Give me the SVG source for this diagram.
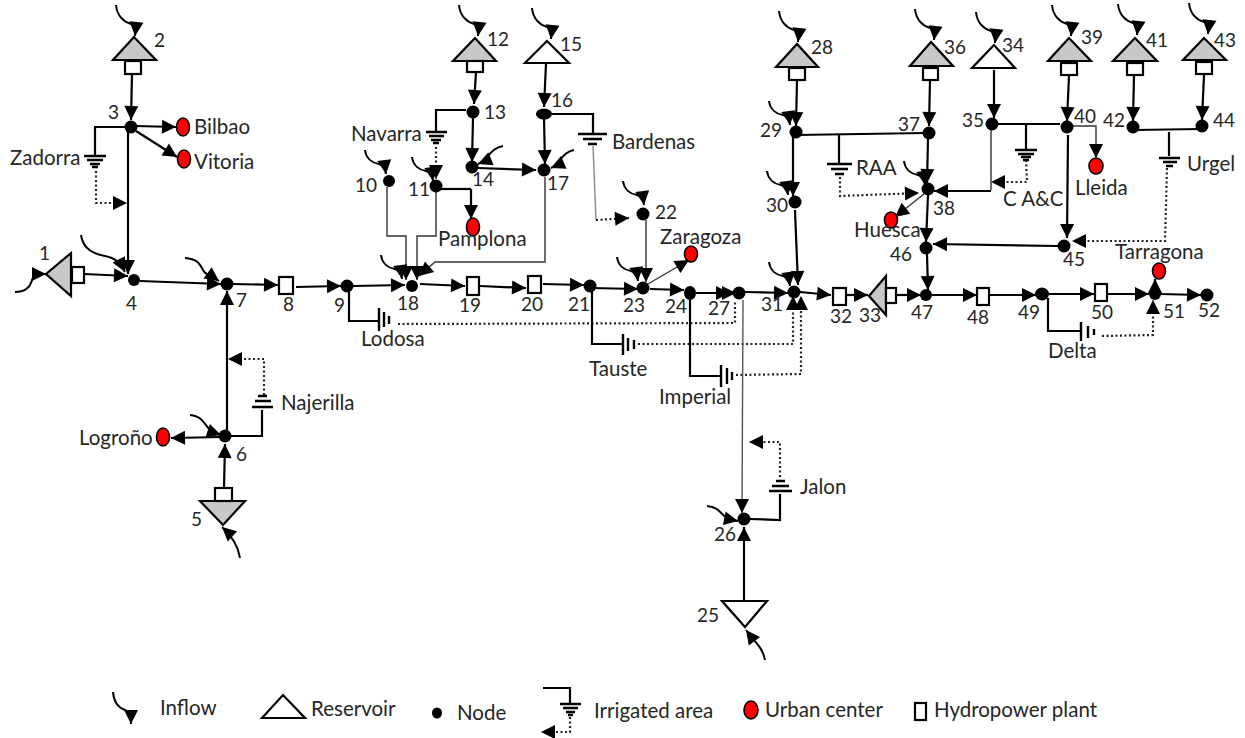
<svg xmlns="http://www.w3.org/2000/svg" width="1245" height="738" viewBox="0 0 1245 738">
<style>
text{font-family:"Lato","Open Sans","Liberation Sans",sans-serif;font-size:19px;fill:#262626}
#legend text,#Bilbao text,#Vitoria text,#Logrono text,#Pamplona text,#Zaragoza text,#Huesca text,#Lleida text,#Tarragona text,#Zadorra text,#Najerilla text,#Navarra text,#Bardenas text,#Lodosa text,#Tauste text,#Imperial text,#Jalon text,#RAA text,#CAC text,#Urgel text,#Delta text{font-size:20.5px}
.c,.t,.d,.g,.i{fill:none;stroke:#000}
.c{stroke-width:2.2}
.t{stroke-width:1.4;stroke:#333}
.d{stroke-width:2.2;stroke-dasharray:2 2.5;stroke:#222}
.g{stroke-width:2.4}
.i{stroke-width:2}
.n{fill:#000}
.r{fill:#c8c8c8;stroke:#000;stroke-width:2.2}
.w{fill:#fff;stroke:#000;stroke-width:2.2}
.u{fill:#f00;stroke:#000;stroke-width:1.6}
</style>
<defs>
<marker id="a" markerUnits="userSpaceOnUse" markerWidth="16" markerHeight="16" refX="15" refY="8" orient="auto" overflow="visible"><path d="M1 1L15 8L1 15Z" fill="#000"/></marker>
<path id="inT" class="i" marker-end="url(#a)" d="M-19 -31c1 11 8 17 15 19c3 1 5 3 4 12"/>
<path id="inS" class="i" marker-end="url(#a)" d="M-21 -24c1 9 8 13 14 14c3 1 6 2 7 10"/>
</defs>
<rect width="1245" height="738" fill="#fff"/>
<g id="connectors">
<path class="c" marker-end="url(#a)" d="M84 274L128 276"/>
<path class="c" marker-end="url(#a)" d="M132 74L131 120"/>
<path class="c" marker-end="url(#a)" d="M128 130V274"/>
<path class="c" marker-end="url(#a)" d="M135 126L176 127"/>
<path class="c" marker-end="url(#a)" d="M136 131L177 157"/>
<path class="c" d="M125 127H95V155"/>
<path class="d" marker-end="url(#a)" d="M96 171V203H127"/>
<path class="c" marker-end="url(#a)" d="M140 281L221 284"/>
<path class="c" marker-end="url(#a)" d="M233 284L278 285"/>
<path class="c" marker-end="url(#a)" d="M296 287L341 286"/>
<path class="c" marker-end="url(#a)" d="M353 286L405 285"/>
<path class="c" marker-end="url(#a)" d="M227 432V291"/>
<path class="c" marker-end="url(#a)" d="M224 488L225 444"/>
<path class="c" marker-end="url(#a)" d="M222 437L171 438"/>
<path class="c" d="M231 436H262V410"/>
<path class="d" marker-end="url(#a)" d="M264 395V359H228"/>
<path class="c" d="M349 290V321H378"/>
<path class="d" d="M398 324L735 323V300"/>
<path class="t" marker-end="url(#a)" d="M387 187V236H406V280"/>
<path class="t" marker-end="url(#a)" d="M436 192V236H417V280"/>
<path class="t" marker-end="url(#a)" d="M545 177V262H435L419 276"/>
<path class="c" d="M466 110H436V131"/>
<path class="d" marker-end="url(#a)" d="M436 147V179"/>
<path class="c" d="M440 189H471"/>
<path class="c" marker-end="url(#a)" d="M471 189V219"/>
<path class="c" marker-end="url(#a)" d="M476 72L474 104"/>
<path class="c" marker-end="url(#a)" d="M473 118L472 162"/>
<path class="c" marker-end="url(#a)" d="M478 168L536 170"/>
<path class="c" marker-end="url(#a)" d="M546 64L544 107"/>
<path class="c" marker-end="url(#a)" d="M544 118L545 164"/>
<path class="c" d="M552 114H593V133"/>
<path class="t" style="stroke:#888" d="M593 146L596 220"/>
<path class="d" marker-end="url(#a)" d="M596 220L629 218"/>
<path class="t" marker-end="url(#a)" d="M646 220V282"/>
<path class="t" marker-end="url(#a)" d="M648 284L689 260"/>
<path class="c" marker-end="url(#a)" d="M420 284L465 286"/>
<path class="c" marker-end="url(#a)" d="M480 286L526 288"/>
<path class="c" marker-end="url(#a)" d="M543 284L584 285"/>
<path class="c" marker-end="url(#a)" d="M590 288L638 289"/>
<path class="c" marker-end="url(#a)" d="M650 289L684 290"/>
<path class="c" marker-end="url(#a)" d="M696 293L730 293"/>
<path class="c" marker-end="url(#a)" d="M720 293L736 293"/>
<path class="c" marker-end="url(#a)" d="M745 292L788 293"/>
<path class="c" d="M592 290V344H622"/>
<path class="d" marker-end="url(#a)" d="M638 344H793V296"/>
<path class="c" d="M690 300V376H720"/>
<path class="d" marker-end="url(#a)" d="M736 375L801 374V296"/>
<path class="t" style="stroke:#555" marker-end="url(#a)" d="M743 300L742 513"/>
<path class="c" marker-end="url(#a)" d="M744 600V527"/>
<path class="c" d="M750 519L780 520V494"/>
<path class="d" marker-end="url(#a)" d="M780 477V442H749"/>
<path class="c" marker-end="url(#a)" d="M797 80L796 126"/>
<path class="c" d="M796 135L925 133"/>
<path class="c" d="M839 135V163"/>
<path class="d" marker-end="url(#a)" d="M840 177V196L919 193"/>
<path class="c" marker-end="url(#a)" d="M793 137V196"/>
<path class="c" marker-end="url(#a)" d="M795 210L798 285"/>
<path class="c" marker-end="url(#a)" d="M930 80L929 126"/>
<path class="c" marker-end="url(#a)" d="M928 139L927 183"/>
<path class="c" marker-end="url(#a)" d="M928 195L926 242"/>
<path class="c" marker-end="url(#a)" d="M927 254L928 290"/>
<path class="t" marker-end="url(#a)" d="M924 194L895 217"/>
<path class="t" d="M991 128V190"/>
<path class="c" marker-end="url(#a)" d="M991 191H934"/>
<path class="c" d="M1026 124V150"/>
<path class="d" marker-end="url(#a)" d="M1026 160L1027 182H991"/>
<path class="c" marker-end="url(#a)" d="M994 70V118"/>
<path class="c" d="M998 124H1060"/>
<path class="c" marker-end="url(#a)" d="M1069 75L1067 121"/>
<path class="t" marker-end="url(#a)" d="M1072 126H1096V158"/>
<path class="c" marker-end="url(#a)" d="M1068 135L1067 238"/>
<path class="c" marker-end="url(#a)" d="M1058 246L933 244"/>
<path class="d" marker-end="url(#a)" d="M1167 168L1165 241H1072"/>
<path class="c" marker-end="url(#a)" d="M1134 75L1133 121"/>
<path class="c" marker-end="url(#a)" d="M1204 75L1202 120"/>
<path class="c" d="M1135 130L1200 129"/>
<path class="c" d="M1169 132V156"/>
<path class="c" marker-end="url(#a)" d="M800 292L831 295"/>
<path class="c" marker-end="url(#a)" d="M846 295L868 295"/>
<path class="c" marker-end="url(#a)" d="M896 295L921 295"/>
<path class="c" marker-end="url(#a)" d="M932 295L977 295"/>
<path class="c" marker-end="url(#a)" d="M989 295L1036 295"/>
<path class="c" marker-end="url(#a)" d="M1048 294L1094 294"/>
<path class="c" marker-end="url(#a)" d="M1108 294L1149 294"/>
<path class="c" marker-end="url(#a)" d="M1160 294L1201 295"/>
<path class="c" marker-end="url(#a)" d="M1155 291V279"/>
<path class="d" marker-end="url(#a)" d="M1102 336L1153 335V300"/>
<path class="c" d="M1048 298V331H1080"/>
</g>
<g id="inflows">
<use href="#inT" x="135" y="36"/>
<use href="#inT" x="478" y="36"/>
<use href="#inT" x="551" y="39"/>
<use href="#inT" x="798" y="42"/>
<use href="#inT" x="934" y="40"/>
<use href="#inT" x="995" y="43"/>
<use href="#inT" x="1071" y="36"/>
<use href="#inT" x="1137" y="35"/>
<use href="#inT" x="1208" y="34"/>
<use href="#inS" x="386" y="174"/>
<use href="#inS" x="433" y="181"/>
<use href="#inS" x="644" y="205"/>
<use href="#inS" x="638" y="281"/>
<use href="#inS" x="790" y="125"/>
<use href="#inS" x="788" y="195"/>
<use href="#inS" x="790" y="286"/>
<use href="#inS" x="925" y="185"/>
<use href="#inS" x="402" y="279"/>
<path class="i" marker-end="url(#a)" d="M15 292C25 292 30 288 32 280C34 274 38 274 46 274"/>
<path class="i" marker-end="url(#a)" d="M81 235C83 250 95 254 105 256C115 258 120 262 125 272"/>
<path class="i" marker-end="url(#a)" d="M185 258C196 259 199 262 203 270C206 276 212 276 219 281"/>
<path class="i" marker-end="url(#a)" d="M190 415C204 416 206 428 212 432L221 435"/>
<path class="i" marker-end="url(#a)" d="M240 558C238 545 232 536 222 527"/>
<path class="i" marker-end="url(#a)" d="M503 146C490 148 488 160 478 164"/>
<path class="i" marker-end="url(#a)" d="M574 150C562 152 560 164 551 168"/>
<path class="i" marker-end="url(#a)" d="M707 506C720 507 722 516 728 519L738 521"/>
<path class="i" marker-end="url(#a)" d="M765 660C763 648 755 642 746 630"/>
</g>
<g id="res1"><path class="r" d="M46 274L71 253V296Z"/><rect class="w" x="72" y="267" width="12" height="16"/><text x="39" y="260">1</text></g>
<g id="res2"><path class="r" d="M134 37L113 60H156Z"/><rect class="w" x="125" y="61" width="16" height="13"/><text x="154" y="47">2</text></g>
<g id="res5"><path class="r" d="M200 501H245L223 525Z"/><rect class="w" x="215" y="488" width="17" height="13"/><text x="191" y="526">5</text></g>
<g id="res12"><path class="r" d="M475 38L453 61H496Z"/><rect class="w" x="467" y="61" width="16" height="11"/><text x="487" y="46">12</text></g>
<g id="res15"><path class="w" d="M547 41L525 63H569Z"/><text x="560" y="51">15</text></g>
<g id="res25"><path class="w" d="M722 601H767L745 627Z"/><text x="697" y="622">25</text></g>
<g id="res28"><path class="r" d="M797 44L776 67H818Z"/><rect class="w" x="789" y="68" width="16" height="12"/><text x="811" y="54">28</text></g>
<g id="res33"><path class="r" d="M869 296L886 276V315Z"/><rect class="w" x="886" y="288" width="10" height="15"/><text x="859" y="322">33</text></g>
<g id="res34"><path class="w" d="M994 45L972 68H1015Z"/><text x="1002" y="52">34</text></g>
<g id="res36"><path class="r" d="M931 42L910 66H953Z"/><rect class="w" x="923" y="68" width="15" height="12"/><text x="944" y="54">36</text></g>
<g id="res39"><path class="r" d="M1069 38L1048 61H1091Z"/><rect class="w" x="1061" y="63" width="16" height="12"/><text x="1081" y="44">39</text></g>
<g id="res41"><path class="r" d="M1135 38L1113 61H1157Z"/><rect class="w" x="1127" y="63" width="16" height="12"/><text x="1146" y="47">41</text></g>
<g id="res43"><path class="r" d="M1204 38L1183 60H1226Z"/><rect class="w" x="1196" y="62" width="16" height="12"/><text x="1214" y="47">43</text></g>
<g id="plant8"><rect class="w" x="279" y="277" width="14" height="17"/><text x="283" y="311">8</text></g>
<g id="plant19"><rect class="w" x="467" y="277" width="12" height="18"/><text x="459" y="312">19</text></g>
<g id="plant20"><rect class="w" x="528" y="276" width="13" height="17"/><text x="521" y="311">20</text></g>
<g id="plant32"><rect class="w" x="833" y="288" width="13" height="17"/><text x="830" y="323">32</text></g>
<g id="plant48"><rect class="w" x="977" y="288" width="12" height="17"/><text x="967" y="324">48</text></g>
<g id="plant50"><rect class="w" x="1095" y="284" width="12" height="17"/><text x="1091" y="319">50</text></g>
<g id="node3"><circle class="n" cx="131" cy="127" r="6.5"/><text x="108" y="119">3</text></g>
<g id="node4"><circle class="n" cx="134" cy="280" r="6"/><text x="126" y="310">4</text></g>
<g id="node6"><circle class="n" cx="225" cy="436" r="6.5"/><text x="236" y="461">6</text></g>
<g id="node7"><circle class="n" cx="227" cy="284" r="6.5"/><text x="236" y="307">7</text></g>
<g id="node9"><circle class="n" cx="347" cy="286" r="6.5"/><text x="334" y="312">9</text></g>
<g id="node10"><circle class="n" cx="389" cy="181" r="6"/><text x="355" y="192">10</text></g>
<g id="node11"><circle class="n" cx="436" cy="186" r="6.5"/><text x="408" y="196">11</text></g>
<g id="node13"><circle class="n" cx="473" cy="112" r="6.5"/><text x="484" y="119">13</text></g>
<g id="node14"><circle class="n" cx="472" cy="167" r="6.5"/><text x="472" y="186">14</text></g>
<g id="node16"><ellipse class="n" cx="544" cy="114" rx="8" ry="5.5"/><text x="551" y="107">16</text></g>
<g id="node17"><circle class="n" cx="544" cy="170" r="6.5"/><text x="547" y="190">17</text></g>
<g id="node18"><circle class="n" cx="412" cy="286" r="6"/><text x="397" y="310">18</text></g>
<g id="node21"><circle class="n" cx="590" cy="286" r="6.5"/><text x="568" y="311">21</text></g>
<g id="node22"><circle class="n" cx="643" cy="214" r="6.5"/><text x="655" y="219">22</text></g>
<g id="node23"><circle class="n" cx="643" cy="288" r="6.5"/><text x="623" y="312">23</text></g>
<g id="node24"><ellipse class="n" cx="690" cy="293" rx="6" ry="7"/><text x="665" y="313">24</text></g>
<g id="node26"><circle class="n" cx="744" cy="519" r="6.5"/><text x="714" y="541">26</text></g>
<g id="node27"><circle class="n" cx="739" cy="293" r="6.5"/><text x="708" y="315">27</text></g>
<g id="node29"><circle class="n" cx="796" cy="132" r="6.5"/><text x="760" y="137">29</text></g>
<g id="node30"><circle class="n" cx="795" cy="202" r="6.5"/><text x="766" y="212">30</text></g>
<g id="node31"><circle class="n" cx="794" cy="292" r="6.5"/><text x="761" y="311">31</text></g>
<g id="node35"><circle class="n" cx="992" cy="124" r="6.5"/><text x="962" y="127">35</text></g>
<g id="node37"><circle class="n" cx="929" cy="133" r="6.5"/><text x="898" y="131">37</text></g>
<g id="node38"><circle class="n" cx="928" cy="189" r="6.5"/><text x="933" y="215">38</text></g>
<g id="node40"><circle class="n" cx="1067" cy="127" r="6.5"/><text x="1074" y="123">40</text></g>
<g id="node42"><circle class="n" cx="1133" cy="127" r="6.5"/><text x="1103" y="127">42</text></g>
<g id="node44"><circle class="n" cx="1202" cy="126" r="6.5"/><text x="1213" y="127">44</text></g>
<g id="node45"><circle class="n" cx="1064" cy="246" r="6.5"/><text x="1063" y="266">45</text></g>
<g id="node46"><circle class="n" cx="926" cy="248" r="6.5"/><text x="890" y="261">46</text></g>
<g id="node47"><circle class="n" cx="926" cy="295" r="6"/><text x="911" y="319">47</text></g>
<g id="node49"><ellipse class="n" cx="1042" cy="294" rx="7" ry="6.5"/><text x="1018" y="319">49</text></g>
<g id="node51"><circle class="n" cx="1155" cy="294" r="6"/><text x="1163" y="318">51</text></g>
<g id="node52"><circle class="n" cx="1207" cy="295" r="6.5"/><text x="1198" y="317">52</text></g>
<g id="Bilbao"><ellipse class="u" cx="183" cy="127" rx="6.5" ry="9"/><text x="194" y="134">Bilbao</text></g>
<g id="Vitoria"><ellipse class="u" cx="184" cy="159" rx="6.5" ry="9"/><text x="194" y="169">Vitoria</text></g>
<g id="Logrono"><ellipse class="u" cx="163" cy="437" rx="6.5" ry="9"/><text x="79" y="445">Logroño</text></g>
<g id="Pamplona"><ellipse class="u" cx="473" cy="227" rx="6.5" ry="9"/><text x="438" y="246">Pamplona</text></g>
<g id="Zaragoza"><ellipse class="u" cx="691" cy="254" rx="6.5" ry="8"/><text x="660" y="244">Zaragoza</text></g>
<g id="Huesca"><ellipse class="u" cx="891" cy="220" rx="6.5" ry="8"/><text x="854" y="237">Huesca</text></g>
<g id="Lleida"><ellipse class="u" cx="1096" cy="166" rx="7" ry="8"/><text x="1075" y="195">Lleida</text></g>
<g id="Tarragona"><ellipse class="u" cx="1159" cy="271" rx="6.5" ry="8"/><text x="1115" y="259">Tarragona</text></g>
<g id="Zadorra"><path class="g" d="M84 156H106M87 160H103M90 164H100M92 167H98"/><text x="10" y="165">Zadorra</text></g>
<g id="Najerilla"><path class="g" d="M252 407H273M255 401H271M258 396H267"/><text x="281" y="410">Najerilla</text></g>
<g id="Navarra"><path class="g" d="M426 132H447M429 136H444M431 140H441M433 143H439"/><text x="351" y="141">Navarra</text></g>
<g id="Bardenas"><path class="g" d="M578 134H607M583 139H602M588 144H597"/><text x="612" y="149">Bardenas</text></g>
<g id="Lodosa"><path class="g" d="M379 308V331M384 312V327M389 316V324"/><text x="361" y="346">Lodosa</text></g>
<g id="Tauste"><path class="g" d="M623 334V355M628 338V351M634 340V349"/><text x="589" y="376">Tauste</text></g>
<g id="Imperial"><path class="g" d="M721 365V387M727 368V384M732 372V380"/><text x="659" y="404">Imperial</text></g>
<g id="Jalon"><path class="g" d="M769 491H792M772 486H789M776 481H785"/><text x="800" y="494">Jalon</text></g>
<g id="RAA"><path class="g" d="M827 164H852M831 169H848M835 174H844"/><text x="856" y="175">RAA</text></g>
<g id="CAC"><path class="g" d="M1015 150H1037M1018 154H1034M1021 157H1031M1023 160H1029"/><text x="1003" y="206">C A&amp;C</text></g>
<g id="Urgel"><path class="g" d="M1159 158H1180M1163 162H1177M1166 166H1173"/><text x="1187" y="171">Urgel</text></g>
<g id="Delta"><path class="g" d="M1081 322V341M1088 326V338M1094 329V335"/><text x="1048" y="358">Delta</text></g>
<g id="legend">
<path class="i" marker-end="url(#a)" d="M113 692C114 704 119 708 125 710C129 712 131 714 131 724"/><text x="160" y="715">Inflow</text>
<path class="w" d="M262 718L283 695L305 718Z"/><text x="311" y="716">Reservoir</text>
<ellipse class="n" cx="437" cy="713" rx="5" ry="5.5"/><text x="457" y="720">Node</text>
<path class="c" d="M543 688H570V703"/><path class="g" d="M560 704H581M563 708H578M566 712H575M568 715H573"/>
<path class="d" marker-end="url(#a)" d="M570 717V732H541"/><text x="594" y="718">Irrigated area</text>
<ellipse class="u" cx="751" cy="710" rx="7" ry="9"/><text x="765" y="717">Urban center</text>
<rect class="w" x="915" y="703" width="11" height="17"/><text x="934" y="717">Hydropower plant</text>
</g>
</svg>
